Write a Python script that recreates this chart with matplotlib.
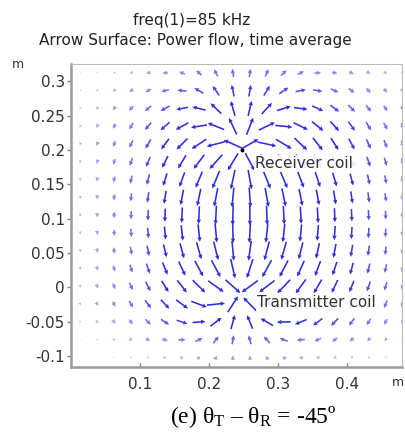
import numpy as np
import matplotlib
matplotlib.use("Agg")
import matplotlib.pyplot as plt

# ---- data ----
title_lines = ["freq(1)=85 kHz", "Arrow Surface: Power flow, time average"]
coil_names = ["Receiver coil", "Transmitter coil"]
coil_x = [0.248, 0.245]          # m
coil_y = [0.200, -0.006]         # m
coil_strength = [1.0, -1.0]      # receiver acts as source, transmitter as sink of the plotted flow
# arrow length: decay widths around the coil column
left_reach = 0.17                # m
right_reach = 0.23               # m
top_reach = 0.12                 # m, above the receiver
bottom_reach = 0.08              # m, below the transmitter
max_len_px = 20
x_ticks = [0.1, 0.2, 0.3, 0.4]
y_ticks = [-0.1, -0.05, 0, 0.05, 0.1, 0.15, 0.2, 0.25, 0.3]
y_tick_labels = ["-0.1", "-0.05", "0", "0.05", "0.1", "0.15", "0.2", "0.25", "0.3"]
caption = r"(e) $\mathrm{\theta_T}$ – $\mathrm{\theta_R}$ = -45º"

# arrow grid (sampling positions)
grid_x = 0.0134 + 0.0246 * np.arange(20)
grid_y = -0.1023 + 0.0259 * np.arange(17)

plt.rcParams['mathtext.fontset'] = 'custom'
plt.rcParams['mathtext.rm'] = 'Liberation Serif'
plt.rcParams['mathtext.it'] = 'Liberation Serif:italic'

W, H = 405, 433
PX = 1 / 690.0                    # data units per pixel
fig = plt.figure(figsize=(W / 100, H / 100), dpi=100)
ax = fig.add_axes([71 / W, 66 / H, (402 - 71) / W, (369 - 66) / H])
ax.set_xlim(0, 0.48)
ax.set_ylim(-0.116, 0.325)

ASPECT = 0.6   # vertical elongation of the flow pattern

X, Y = np.meshgrid(grid_x, grid_y)
U = np.zeros_like(X)
V = np.zeros_like(X)
for cx, cy, s in zip(coil_x, coil_y, coil_strength):
    dx, dy = X - cx, (Y - cy) * ASPECT
    r2 = dx ** 2 + dy ** 2 + 1e-8
    U += s * dx / r2
    V += s * dy / r2
V = V / ASPECT
dirn = np.sqrt(U ** 2 + V ** 2) + 1e-12

# arrow length: largest along the column between the coils
axis_x = 0.5 * (coil_x[0] + coil_x[1])
dxs = np.where(X < axis_x, (X - axis_x) / left_reach, (X - axis_x) / right_reach)
above = np.clip(Y - coil_y[0], 0, None) / top_reach
below = np.clip(coil_y[1] - Y, 0, None) / bottom_reach
d2 = dxs ** 2 + above ** 2 + below ** 2
L = max_len_px * PX * np.exp(-d2)

Ud = U / dirn * L
Vd = V / dirn * L
alpha = np.clip(0.15 + 0.85 * (L / (13 * PX)), 0.15, 1.0)
colors = np.zeros((alpha.size, 4))
colors[:, 0] = 0.18
colors[:, 1] = 0.18
colors[:, 2] = 0.86
colors[:, 3] = alpha.ravel()

ax.quiver(X, Y, Ud, Vd, color=colors, angles='xy', scale_units='xy', scale=1,
          pivot='middle', width=0.0048, headwidth=2.8, headlength=2.8,
          headaxislength=2.6, minshaft=1, minlength=0.3, zorder=2)

# coil markers and labels
ax.plot([coil_x[0]], [coil_y[0]], 'o', color='black', markersize=1.8, zorder=3)
label_box = dict(facecolor='white', edgecolor='none', pad=0.5, alpha=0.9)
ax.text(0.267, 0.180, coil_names[0], fontsize=11, color='#333333',
        va='center', ha='left', zorder=4, bbox=label_box)
ax.text(0.270, -0.022, coil_names[1], fontsize=11, color='#333333',
        va='center', ha='left', zorder=4, bbox=label_box)

# axes styling
ax.set_xticks(x_ticks)
ax.set_xticklabels([str(t) for t in x_ticks])
ax.set_yticks(y_ticks)
ax.set_yticklabels(y_tick_labels)
ax.tick_params(axis='x', direction='in', length=3, width=1, color='#888888',
               labelsize=11, labelcolor='#333333', pad=7)
ax.tick_params(axis='y', direction='out', length=3, width=1, color='#888888',
               labelsize=11, labelcolor='#333333', pad=1.5)
for side in ['left', 'bottom']:
    ax.spines[side].set_color('#9a9a9a')
    ax.spines[side].set_linewidth(1.8)
for side in ['top', 'right']:
    ax.spines[side].set_color('#bbbbbb')
    ax.spines[side].set_linewidth(0.8)

# titles and unit labels
fig.text(192 / W, 1 - 21 / H, title_lines[0], fontsize=11, color='#222222',
         ha='center', va='center')
fig.text(195 / W, 1 - 40 / H, title_lines[1], fontsize=11, color='#222222',
         ha='center', va='center')
fig.text(18 / W, 1 - 65 / H, "m", fontsize=9, color='#333333', ha='center', va='center')
fig.text(392 / W, 1 - 383 / H, "m", fontsize=9, color='#333333', ha='left', va='center')

fig.text(253 / W, 1 - 417 / H, caption, fontsize=17, family='Liberation Serif',
         color='black', ha='center', va='center')

fig.savefig("out.png", dpi=100)
